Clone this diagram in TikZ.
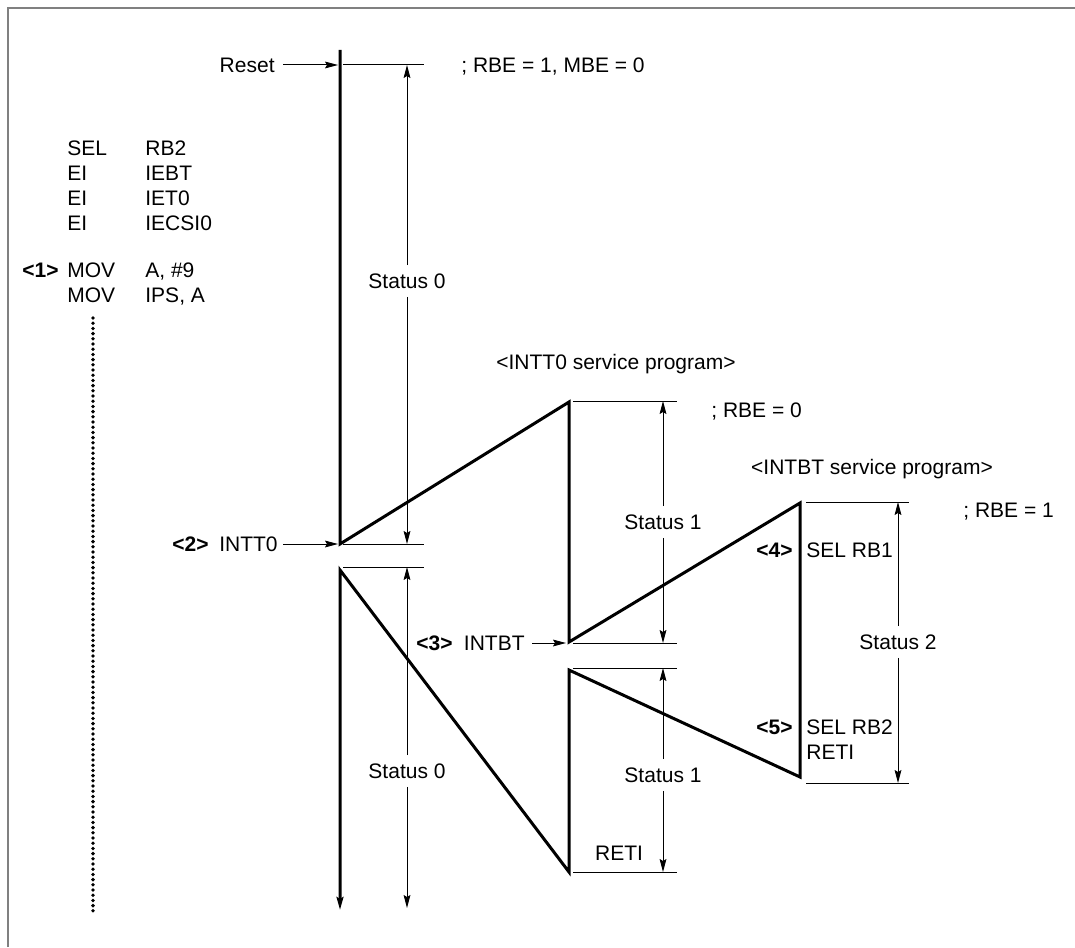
\documentclass[tikz,border=0pt]{standalone}
\usepackage{fontspec}
\setmainfont{Liberation Sans}
\usetikzlibrary{arrows.meta}
\tikzset{
  txt/.style={inner sep=0pt, text height=7.5pt, text depth=0pt, font=\fontsize{10.5}{12}\selectfont},
  bld/.style={txt, font=\fontsize{10.5}{12}\selectfont\bfseries},
  stat/.style={txt, inner ysep=4pt},
  flow/.style={line width=1.5pt, line join=miter},
  thin/.style={line width=0.5pt},
  tip/.style={-{Stealth[length=6.5pt,width=3.4pt,inset=1pt]}},
  frame/.style={draw=gray, line width=1pt},
  dots/.style={line width=1.9pt, line cap=round, dash pattern=on 0pt off 2.6pt},
}
\begin{document}
\begin{tikzpicture}[x=0.5pt,y=-0.5pt]
\useasboundingbox (0,0) rectangle (1075,947);
\draw[frame] (8,947) -- (8,8) -- (1075,8);

% program listing
\node[txt,anchor=west] (c1a) at (67,148) {SEL};
\node[txt,anchor=west] (c2a) at (145,148) {RB2};
\node[txt,anchor=west] (c1b) at (67,173) {EI};
\node[txt,anchor=west] (c2b) at (145,173) {IEBT};
\node[txt,anchor=west] (c1c) at (67,198) {EI};
\node[txt,anchor=west] (c2c) at (145,198) {IET0};
\node[txt,anchor=west] (c1d) at (67,223) {EI};
\node[txt,anchor=west] (c2d) at (145,223) {IECSI0};
\node[bld,anchor=west] (m1) at (22,270) {<1>};
\node[txt,anchor=west] (c1e) at (67,270) {MOV};
\node[txt,anchor=west] (c2e) at (145,270) {A, \#9};
\node[txt,anchor=west] (c1f) at (67,295) {MOV};
\node[txt,anchor=west] (c2f) at (145,295) {IPS, A};
\draw[dots] (93,318) -- (93,911);

% flow coordinates
\coordinate (A0) at (340,50);
\coordinate (A1) at (340,544);
\coordinate (B1) at (569,402);
\coordinate (B2) at (569,642);
\coordinate (C1) at (800,503);
\coordinate (C2) at (800,777);
\coordinate (B3) at (569,670);
\coordinate (B4) at (569,872);
\coordinate (A2) at (340,570);
\coordinate (A3) at (340,910);
\draw[flow,tip] (A0) -- (A1) -- (B1) -- (B2) -- (C1) -- (C2) -- (B3) -- (B4) -- (A2) -- (A3);

% reset
\node[txt,anchor=east] (reset) at (275,65) {Reset};
\coordinate (rs) at (338,65);
\draw[thin,tip] ([xshift=4pt]reset.east) -- (rs);
\node[txt,anchor=west] (rbe10) at (461,65) {; RBE = 1, MBE = 0};

% INTT0
\node[bld,anchor=east] (m2) at (209,544) {<2>};
\node[txt,anchor=east] (intt0) at (278,544) {INTT0};
\coordinate (it0) at (338,544);
\draw[thin,tip] ([xshift=2.5pt]intt0.east) -- (it0);

% INTBT
\node[bld,anchor=east] (m3) at (453,643) {<3>};
\node[txt,anchor=east] (intbt) at (525,643) {INTBT};
\coordinate (ibt) at (566,643);
\draw[thin,tip] ([xshift=3.5pt]intbt.east) -- (ibt);

% service program titles
\node[txt] (svc0) at (616,362) {<INTT0 service program>};
\node[txt,anchor=west] (rbe0) at (711,410) {; RBE = 0};
\node[txt] (svcb) at (872,467) {<INTBT service program>};
\node[txt,anchor=west] (rbe1) at (963,510) {; RBE = 1};

% INTBT routine texts
\node[bld,anchor=east] (m4) at (793,550) {<4>};
\node[txt,anchor=west] (sel1) at (806,550) {SEL RB1};
\node[bld,anchor=east] (m5) at (793,727) {<5>};
\node[txt,anchor=west] (sel2) at (806,727) {SEL RB2};
\node[txt,anchor=west] (reti2) at (806,752) {RETI};
\node[txt] (reti1) at (619,853) {RETI};

% boundary lines
\draw[thin] (343,65) -- (424,65);
\draw[thin] (343,544) -- (424,544);
\draw[thin] (343,567) -- (424,567);
\draw[thin] (573,401) -- (677,401);
\draw[thin] (573,643) -- (677,643);
\draw[thin] (573,668) -- (677,668);
\draw[thin] (573,872) -- (677,872);
\draw[thin] (806,502) -- (909,502);
\draw[thin] (806,783) -- (909,783);

% status spans
\node[stat] (s0a) at (407,281) {Status 0};
\coordinate (s0at) at (407,65);
\coordinate (s0ab) at (407,544);
\draw[thin,tip] (s0a.north) -- (s0at);
\draw[thin,tip] (s0a.south) -- (s0ab);

\node[stat] (s0b) at (407,771) {Status 0};
\coordinate (s0bt) at (407,567);
\coordinate (s0bb) at (407,908);
\draw[thin,tip] (s0b.north) -- (s0bt);
\draw[thin,tip] (s0b.south) -- (s0bb);

\node[stat] (s1a) at (663,522) {Status 1};
\coordinate (s1at) at (663,401);
\coordinate (s1ab) at (663,643);
\draw[thin,tip] (s1a.north) -- (s1at);
\draw[thin,tip] (s1a.south) -- (s1ab);

\node[stat] (s1b) at (663,775) {Status 1};
\coordinate (s1bt) at (663,668);
\coordinate (s1bb) at (663,872);
\draw[thin,tip] (s1b.north) -- (s1bt);
\draw[thin,tip] (s1b.south) -- (s1bb);

\node[stat] (s2) at (898,642) {Status 2};
\coordinate (s2t) at (898,502);
\coordinate (s2b) at (898,783);
\draw[thin,tip] (s2.north) -- (s2t);
\draw[thin,tip] (s2.south) -- (s2b);
\end{tikzpicture}
\end{document}
